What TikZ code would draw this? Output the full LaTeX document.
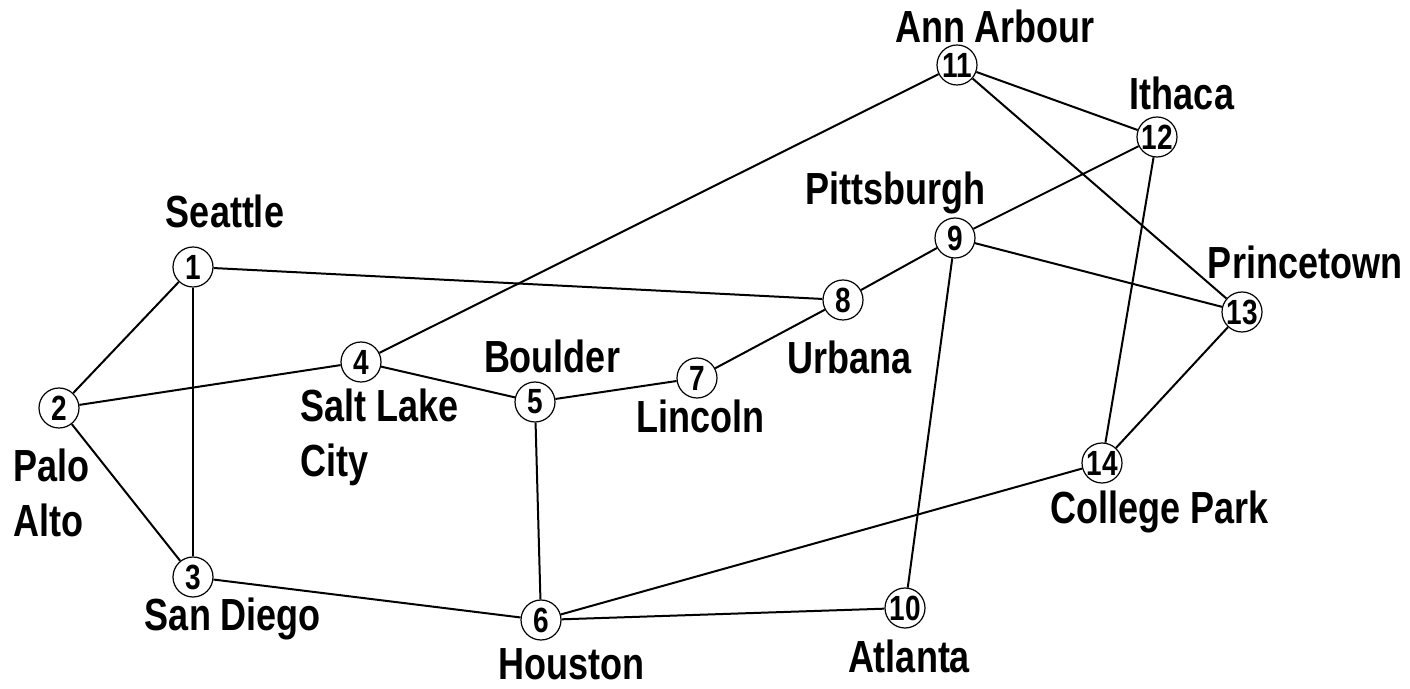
\documentclass[tikz,border=0pt]{standalone}
\usepackage{fontspec}
\usepackage{tikz}
\newfontfamily\cityfont{Liberation Sans}[FakeStretch=0.8]
\definecolor{RouteBlack}{RGB}{0, 0, 0}

\begin{document}
\begin{tikzpicture}[x=0.5pt,y=-0.5pt,
  city/.style={circle, draw=RouteBlack, line width=0.6pt, fill=white,
    minimum size=20pt, inner sep=0pt,
    font=\cityfont\bfseries\fontsize{17.5}{18}\selectfont},
  place/.style={inner sep=0pt, anchor=base, align=left,
    font=\cityfont\bfseries\fontsize{22.5}{27.5}\selectfont},
  route/.style={RouteBlack, line width=1pt}]
  \path[use as bounding box] (0,0) rectangle (1410,689);

  % site positions
  \foreach \n/\x/\y in {1/193/267, 2/59/408, 3/193/577, 4/361/362,
      5/535/402, 6/541/620, 7/697/378, 8/843/300, 9/955/238,
      10/905/608, 11/957/65, 12/1157/137, 13/1242/312, 14/1102/463}{
    \coordinate (p\n) at (\x,\y);
  }

  % network sites
  \foreach \n in {1,...,14}{
    \node[city] (c\n) at (p\n) {\n};
  }

  % links
  \foreach \a/\b in {1/2, 1/3, 1/8, 2/3, 2/4, 3/6, 4/5, 4/11, 5/6, 5/7,
      7/8, 8/9, 9/10, 9/12, 9/13, 11/12, 11/13, 12/14, 13/14, 6/14, 6/10}{
    \draw[route] (c\a) -- (c\b);
  }

  % names
  \node[place] (seattle) at (225,228) {Seattle};
  \node[place, anchor=base west] (paloalto) at (13,537) {Palo\\Alto};
  \node[place] (sandiego) at (233,631) {San Diego};
  \node[place, anchor=base west] (saltlake) at (300,477) {Salt Lake\\City};
  \node[place] (boulder) at (552,373) {Boulder};
  \node[place] (lincoln) at (700,433) {Lincoln};
  \node[place] (urbana) at (850,374) {Urbana};
  \node[place] (pittsburgh) at (895,205) {Pittsburgh};
  \node[place] (annarbour) at (995,43) {Ann Arbour};
  \node[place] (ithaca) at (1182,110) {Ithaca};
  \node[place] (princetown) at (1305,279) {Princetown};
  \node[place] (collegepark) at (1160,524) {College Park};
  \node[place] (atlanta) at (909,673) {Atlanta};
  \node[place] (houston) at (571,680) {Houston};
\end{tikzpicture}
\end{document}
